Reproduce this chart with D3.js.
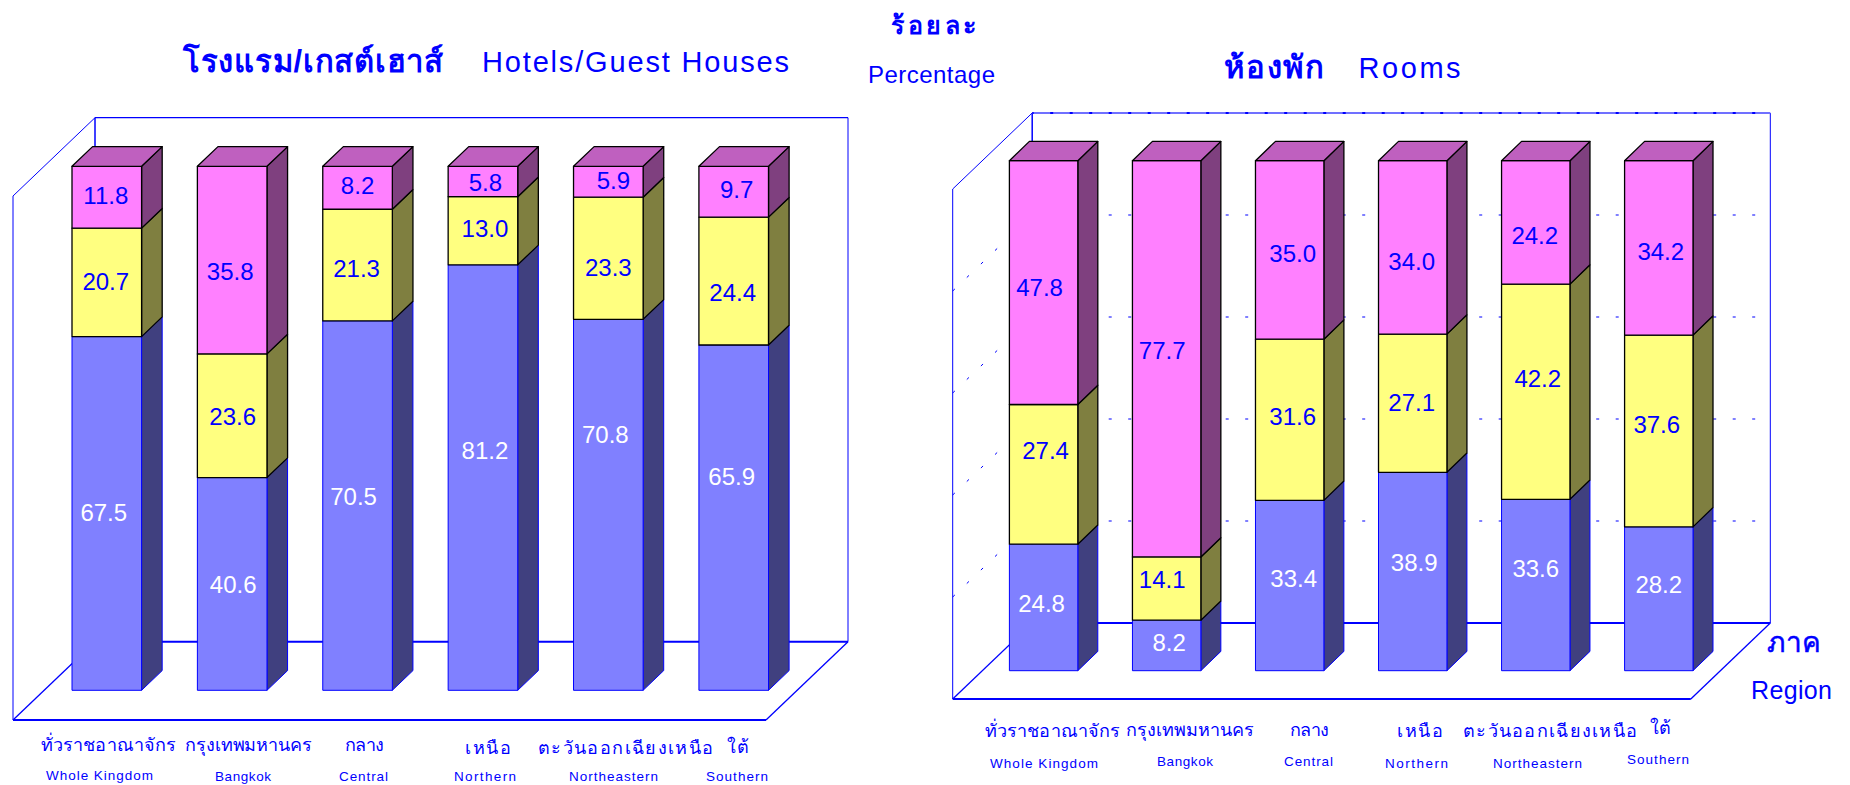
<!DOCTYPE html>
<html>
<head>
<meta charset="utf-8">
<script src="https://d3js.org/d3.v7.min.js"></script>
<style>
    html, body { margin: 0; padding: 0; background: #fff; overflow: hidden; }
    text { font-family: "Liberation Sans", Arial, sans-serif; }
</style>
</head>
<body>
<svg id="chart" width="1850" height="785"></svg>
<script>
// data, percent
const regionsTh = ["ทั่วราชอาณาจักร", "กรุงเทพมหานคร", "กลาง", "เหนือ", "ตะวันออกเฉียงเหนือ", "ใต้"];
const regionsEn = ["Whole Kingdom", "Bangkok", "Central", "Northern", "Northeastern", "Southern"];

const hotelsBlue = [67.5, 40.6, 70.5, 81.2, 70.8, 65.9];
const hotelsYellow = [20.7, 23.6, 21.3, 13.0, 23.3, 24.4];
const hotelsPink = [11.8, 35.8, 8.2, 5.8, 5.9, 9.7];

const roomsBlue = [24.8, 8.2, 33.4, 38.9, 33.6, 28.2];
const roomsYellow = [27.4, 14.1, 31.6, 27.1, 42.2, 37.6];
const roomsPink = [47.8, 77.7, 35.0, 34.0, 24.2, 34.2];

// the Bangkok rooms bar in the picture is not drawn to its printed numbers:
// blue measures about 9.9 and yellow about 12.4, so heights are kept apart from labels
const roomsBlueDrawn = [24.8, 9.9, 33.4, 38.9, 33.6, 28.2];
const roomsYellowDrawn = [27.4, 12.4, 31.6, 27.1, 42.2, 37.6];

const gridTicks = [20, 40, 60, 80];

const seriesStyle = [
    { front: "#8080ff", side: "#40407f", edge: "#0000ff", width: 1, label: "#fff" },
    { front: "#ffff80", side: "#7f7f40", edge: "#000", width: 1.3, label: "#0000ff" },
    { front: "#ff80ff", side: "#7f407f", edge: "#000", width: 1.3, label: "#0000ff" }
];
const topFace = "#bf60bf";
const BLUE = "#0000ff";

const svg = d3.select("#chart");

function line(g, x1, y1, x2, y2, w) {
    return g.append("line")
        .attr("x1", x1).attr("y1", y1).attr("x2", x2).attr("y2", y2)
        .attr("stroke", BLUE).attr("stroke-width", w);
}

function label(str, x, y, size, length, bold) {
    let t = svg.append("text")
        .attr("x", x).attr("y", y)
        .attr("font-size", size)
        .attr("fill", BLUE)
        .attr("font-weight", bold ? "bold" : "normal")
        .text(str);
    if (length) {
        t.attr("textLength", length).attr("lengthAdjust", "spacing");
    }
    return t;
}

function drawPanel(p) {
    const g = svg.append("g");

    const x = d3.scaleBand().domain(regionsEn).range(p.xRange).paddingInner(p.inner);
    const y = d3.scaleLinear().domain([0, 100]).range(p.yRange);

    // box floor and walls
    const fy = p.floorFront, by = p.floorBack;
    const wallH = y(0) - y(100);
    line(g, p.floorLeft, fy, p.floorRight, fy, 2);
    line(g, p.floorLeft + p.boxDx, by, p.floorRight + p.boxDx, by, 2);
    line(g, p.floorLeft, fy, p.floorLeft + p.boxDx, by, 1.3);
    line(g, p.floorRight, fy, p.floorRight + p.boxDx, by, 1.3);
    line(g, p.floorLeft, fy, p.floorLeft, fy - wallH, 1);
    line(g, p.floorLeft, fy - wallH, p.floorLeft + p.boxDx, by - wallH, 1);
    line(g, p.floorLeft + p.boxDx, by, p.floorLeft + p.boxDx, by - wallH, 1.5);
    line(g, p.floorRight + p.boxDx, by, p.floorRight + p.boxDx, by - wallH, 1);

    if (p.grid) {
        const toBack = v => by - (y(0) - y(v));
        const toFront = v => fy - (y(0) - y(v));
        gridTicks.forEach(v => {
            line(g, p.floorLeft, toFront(v), p.floorLeft + p.boxDx, toBack(v), 1)
                .attr("stroke-dasharray", "3 16.5");
            line(g, p.floorLeft + p.boxDx, toBack(v), p.floorRight + p.boxDx, toBack(v), 1.2)
                .attr("stroke-dasharray", "3 16.5")
                .attr("stroke-dashoffset", 1.5);
        });
        line(g, p.floorLeft + p.boxDx, by - wallH, p.floorRight + p.boxDx, by - wallH, 2)
            .attr("stroke", "#7070ff");
        line(g, p.floorLeft + p.boxDx, by - wallH, p.floorRight + p.boxDx, by - wallH, 2)
            .attr("stroke-dasharray", "3 16.5")
            .attr("stroke-dashoffset", 1.5);
    } else {
        line(g, p.floorLeft + p.boxDx, by - wallH, p.floorRight + p.boxDx, by - wallH, 1.3);
    }

    // stacked bars
    regionsEn.forEach((name, i) => {
        const x0 = x(name), w = x.bandwidth();
        let base = 0;
        p.drawn.forEach((values, s) => {
            const st = seriesStyle[s];
            const y0 = y(base), y1 = y(base + values[i]);
            const face = g.append("g").attr("stroke", st.edge).attr("stroke-width", st.width).attr("stroke-linejoin", "round");
            face.append("polygon")
                .attr("points", [[x0 + w, y0], [x0 + w + p.dx, y0 - p.dy], [x0 + w + p.dx, y1 - p.dy], [x0 + w, y1]].join(" "))
                .attr("fill", st.side);
            face.append("rect")
                .attr("x", x0).attr("y", y1)
                .attr("width", w).attr("height", y0 - y1)
                .attr("fill", st.front);
            if (s === p.drawn.length - 1) {
                face.append("polygon")
                    .attr("points", [[x0, y1], [x0 + p.dx, y1 - p.dy], [x0 + w + p.dx, y1 - p.dy], [x0 + w, y1]].join(" "))
                    .attr("fill", topFace);
            }
            base += values[i];
        });
    });

    // value labels, nudged from the middle of each segment like the original
    regionsEn.forEach((name, i) => {
        let base = 0;
        p.drawn.forEach((values, s) => {
            const mid = y(base + values[i] / 2);
            const [nx, ny] = p.nudge[s][i];
            svg.append("text")
                .attr("x", x(name) + x.bandwidth() / 2 + nx)
                .attr("y", mid + ny)
                .attr("dy", "0.36em")
                .attr("text-anchor", "middle")
                .attr("font-size", 24)
                .attr("fill", seriesStyle[s].label)
                .text(p.printed[s][i].toFixed(1));
            base += values[i];
        });
    });

    // category labels
    regionsTh.forEach((name, i) => {
        const [x1, x2, base] = p.thLabels[i];
        label(name, x1, base, 18, x2 - x1, false);
    });
    regionsEn.forEach((name, i) => {
        const [x1, x2, base] = p.enLabels[i];
        label(name, x1, base, 13.5, x2 - x1, false);
    });
}

drawPanel({
    printed: [hotelsBlue, hotelsYellow, hotelsPink],
    drawn: [hotelsBlue, hotelsYellow, hotelsPink],
    xRange: [72, 768.5], inner: 0.445,
    yRange: [690.3, 166.3],
    dx: 20.6, dy: 19.7,
    floorLeft: 13, floorRight: 766, boxDx: 82,
    floorFront: 720, floorBack: 641.7,
    grid: false,
    nudge: [
        [[-3, -1], [1, 0], [-4, -9], [2, -27], [-3, -70], [-2, -41]],
        [[-1, -1], [0.5, 1], [-1, 3], [2, -2], [0, 9], [-1, 11]],
        [[-1, -2], [-2, 11], [0, -2], [2.5, 1], [5, -1], [3, -2]]
    ],
    thLabels: [[41, 176, 751], [185, 312, 751], [345, 384, 751], [465, 511, 754], [538, 713, 754], [727, 749, 753]],
    enLabels: [[46, 153, 780], [215, 271, 781], [339, 388, 781], [454, 516, 781], [569, 658, 781], [706, 768, 781]]
});

drawPanel({
    printed: [roomsBlue, roomsYellow, roomsPink],
    drawn: [roomsBlueDrawn, roomsYellowDrawn, roomsPink],
    xRange: [1009.4, 1693], inner: 0.444,
    yRange: [670.7, 160.7],
    dx: 20, dy: 19.3,
    floorLeft: 952.7, floorRight: 1690.8, boxDx: 79.5,
    floorFront: 699, floorBack: 623,
    grid: true,
    nudge: [
        [[-2, -4], [2.5, -2.7], [4, -7], [1.5, -9], [0, -17], [0, -14.5]],
        [[2, -24], [-4.5, -9.3], [3, -3], [-1, -1], [2, -13], [-2, -7]],
        [[-4, 5], [-4.5, -8], [3, 3], [-1, 14], [-1, 13], [2, 3]]
    ],
    thLabels: [[985, 1120, 737], [1126, 1254, 736], [1290, 1329, 736], [1397, 1443, 737], [1463, 1637, 737], [1650, 1671, 734]],
    enLabels: [[990, 1098, 768], [1157, 1213, 766], [1284, 1333, 766], [1385, 1448, 768], [1493, 1582, 768], [1627, 1689, 764]]
});

// titles
label("โรงแรม/เกสต์เฮาส์", 183, 71.7, 31, 260, true);
label("Hotels/Guest Houses", 482, 71.7, 29, 307, false);
label("ห้องพัก", 1224, 78.3, 31, 100, true);
label("Rooms", 1358.6, 78.3, 29, 102, false);
label("ร้อยละ", 891, 34.3, 25, 85, true);
label("Percentage", 868, 83.3, 24, 127, false);
label("ภาค", 1767, 651.7, 28, 54, false).attr("stroke", BLUE).attr("stroke-width", 0.5);
label("Region", 1751, 699, 25, 81, false);
</script>
</body>
</html>
